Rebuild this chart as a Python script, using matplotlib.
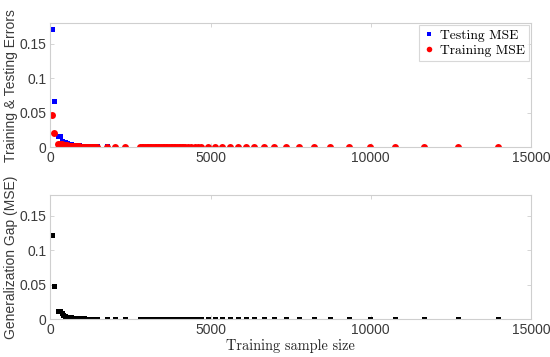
import numpy as np
import matplotlib
matplotlib.use("Agg")
import matplotlib.pyplot as plt

# training sample sizes
sizes = [50, 100, 250, 300, 350, 400, 450, 500, 550, 600, 650, 700, 750, 800,
         850, 900, 950, 1000, 1050, 1100, 1150, 1200, 1250, 1300, 1350, 1400,
         1450, 1750, 2000, 2330,
         2800, 2850, 2900, 2950, 3000, 3050, 3100, 3150, 3200, 3250, 3300,
         3350, 3400, 3450, 3500, 3550, 3600, 3650, 3700, 3750, 3800, 3850,
         3900, 3950, 4000, 4050, 4100, 4150, 4200, 4300, 4400, 4500, 4600,
         4700, 4907, 5136, 5364, 5604, 5845, 6095, 6364, 6667, 6978, 7352,
         7768, 8217, 8735, 9319, 9984, 10755, 11651, 12722, 13980]

n_tail = 53  # points after x=2330, values essentially zero

test_mse = [0.171, 0.0676, 0.0165, 0.0160, 0.0085, 0.0078, 0.0066, 0.0058,
            0.0050, 0.0045, 0.0040, 0.0036, 0.0032, 0.0029, 0.0026, 0.0024,
            0.0022, 0.0020, 0.0019, 0.0018, 0.0017, 0.0016, 0.0015, 0.0014,
            0.0013, 0.0012, 0.0011, 0.0009, 0.0007, 0.0006] + [0.0003] * n_tail

train_mse = [0.047, 0.020, 0.0050, 0.0045, 0.0040, 0.0033, 0.0028, 0.0024,
             0.0020, 0.0017, 0.0015, 0.0013, 0.0011, 0.0010, 0.0009, 0.0008,
             0.0007, 0.0007, 0.0006, 0.0006, 0.0005, 0.0005, 0.0005, 0.0004,
             0.0004, 0.0004, 0.0003, 0.0003, 0.0003, 0.0002] + [0.0002] * n_tail

gap_mse = [0.122, 0.048, 0.0118, 0.0115, 0.0083, 0.0060, 0.0045, 0.0035,
           0.0030, 0.0026, 0.0022, 0.0019, 0.0016, 0.0014, 0.0012, 0.0011,
           0.0010, 0.0009, 0.0008, 0.0007, 0.0007, 0.0006, 0.0006, 0.0005,
           0.0005, 0.0004, 0.0004, 0.0003, 0.0003, 0.0002] + [0.0001] * n_tail

xticks = [0, 5000, 10000, 15000]
yticks = [0, 0.05, 0.1, 0.15]
ytick_labels = ["0", "0.05", "0.1", "0.15"]

SPINE = "#cfcfcf"
LABEL = "#3a3a3a"
SANS = "Liberation Sans"
SERIF = "cmr10"


def style_axes(ax):
    ax.set_xlim(0, 15000)
    ax.set_ylim(0, 0.18)
    ax.set_xticks(xticks)
    ax.set_xticklabels([str(t) for t in xticks])
    ax.set_yticks(yticks)
    ax.set_yticklabels(ytick_labels)
    for s in ax.spines.values():
        s.set_color(SPINE)
        s.set_linewidth(0.8)
    ax.tick_params(direction="in", length=3, width=0.6, color=SPINE,
                   top=True, right=True, labelsize=10, labelcolor=LABEL,
                   pad=3)
    for lab in ax.get_xticklabels() + ax.get_yticklabels():
        lab.set_fontfamily(SANS)


fig = plt.figure(figsize=(5.5, 3.57), dpi=100)
ax1 = fig.add_axes([0.0918, 0.5882, 0.8736, 0.3465])
ax2 = fig.add_axes([0.0918, 0.1064, 0.8736, 0.3473])

ax1.plot(sizes, test_mse, "s", color="#0000ff", markersize=3.6,
         markeredgewidth=0, label="Testing MSE")
ax1.plot(sizes, train_mse, "o", color="#ff0000", markersize=5,
         markeredgewidth=0, label="Training MSE")
style_axes(ax1)
ax1.set_ylabel("Training & Testing Errors", fontfamily=SANS, fontsize=10,
               color=LABEL, labelpad=1)
leg = ax1.legend(loc="upper right", prop={"family": SERIF, "size": 9.8},
                 frameon=True, fancybox=False, borderpad=0.3,
                 handletextpad=0.4, handlelength=0.8, labelspacing=0.2,
                 borderaxespad=0.15, markerscale=0.8)
leg.get_frame().set_edgecolor(SPINE)
leg.get_frame().set_linewidth(0.8)

ax2.plot(sizes, gap_mse, "s", color="black", markersize=3.6,
         markeredgewidth=0)
style_axes(ax2)
ax2.set_ylabel("Generalization Gap (MSE)", fontfamily=SANS, fontsize=10,
               color=LABEL, labelpad=1)
ax2.set_xlabel("Training sample size", fontfamily=SERIF, fontsize=10.3,
               color="#222222", labelpad=1)

fig.savefig("out.png", dpi=100)
